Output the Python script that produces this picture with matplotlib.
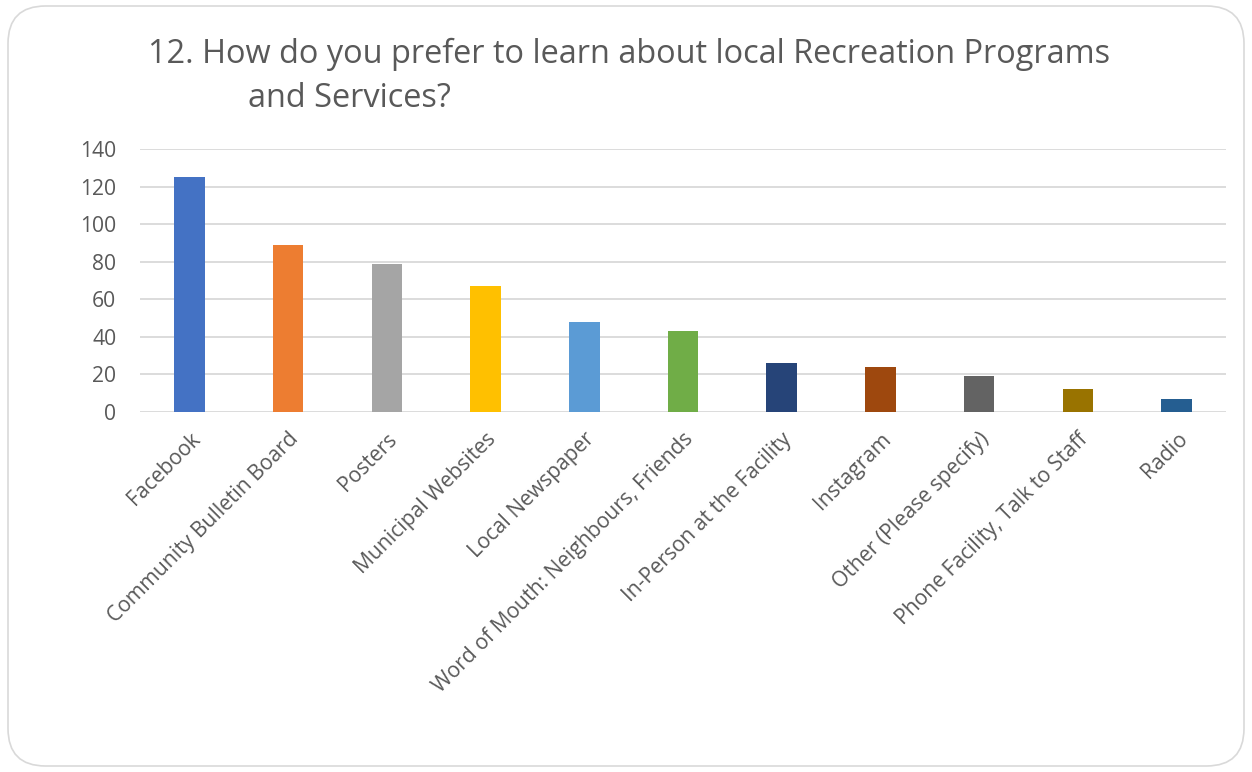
import matplotlib
matplotlib.use("Agg")
import matplotlib.pyplot as plt
from matplotlib.patches import FancyBboxPatch

categories = ["Facebook", "Community Bulletin Board", "Posters", "Municipal Websites",
              "Local Newspaper", "Word of Mouth: Neighbours, Friends",
              "In-Person at the Facility", "Instagram", "Other (Please specify)",
              "Phone Facility, Talk to Staff", "Radio"]
values = [125, 89, 79, 67, 48, 43, 26, 24, 19, 12, 7]
colors = ["#4472C4", "#ED7D31", "#A5A5A5", "#FFC000", "#5B9BD5", "#70AD47",
          "#264478", "#9E480E", "#636363", "#997300", "#255E91"]
yticks = [0, 20, 40, 60, 80, 100, 120, 140]
title_line1 = "12. How do you prefer to learn about local Recreation Programs"
title_line2 = "and Services?"

plt.rcParams['font.family'] = ['Open Sans', 'DejaVu Sans']
W, H = 1252, 772
fig = plt.figure(figsize=(W/100, H/100), dpi=100)
fig.patch.set_facecolor("white")

border = FancyBboxPatch((8/W, 6/H), (W-16)/W, (H-12)/H,
                        boxstyle="round,pad=0,rounding_size=0.03",
                        transform=fig.transFigure, facecolor="none",
                        edgecolor="#D9D9D9", linewidth=1.2, mutation_aspect=W/H)
fig.patches.append(border)

ax = fig.add_axes([140/W, 1-412/H, (1226-140)/W, (412-149)/H])
x = range(len(categories))
ax.bar(x, values, width=0.31, color=colors, zorder=3)
ax.set_xlim(-0.5, len(categories)-0.5)
ax.set_ylim(0, 140)
ax.set_yticks(yticks)
ax.yaxis.grid(True, color="#D9D9D9", linewidth=1.3, zorder=0)
ax.set_axisbelow(True)
for s in ax.spines.values():
    s.set_visible(False)
ax.tick_params(axis='both', length=0, colors="#595959", labelsize=15.2)
ax.tick_params(axis='y', pad=17)
ax.set_xticks(list(x))
ax.set_xticklabels(categories, rotation=45, ha='right', rotation_mode='anchor')
ax.tick_params(axis='x', pad=12)

fig.text(148/W, 1-63/H, title_line1, ha='left', va='baseline', fontsize=23.4,
         color="#595959")
fig.text(248/W, 1-107/H, title_line2, ha='left', va='baseline', fontsize=23.4,
         color="#595959")

fig.savefig("out.png", dpi=100)
